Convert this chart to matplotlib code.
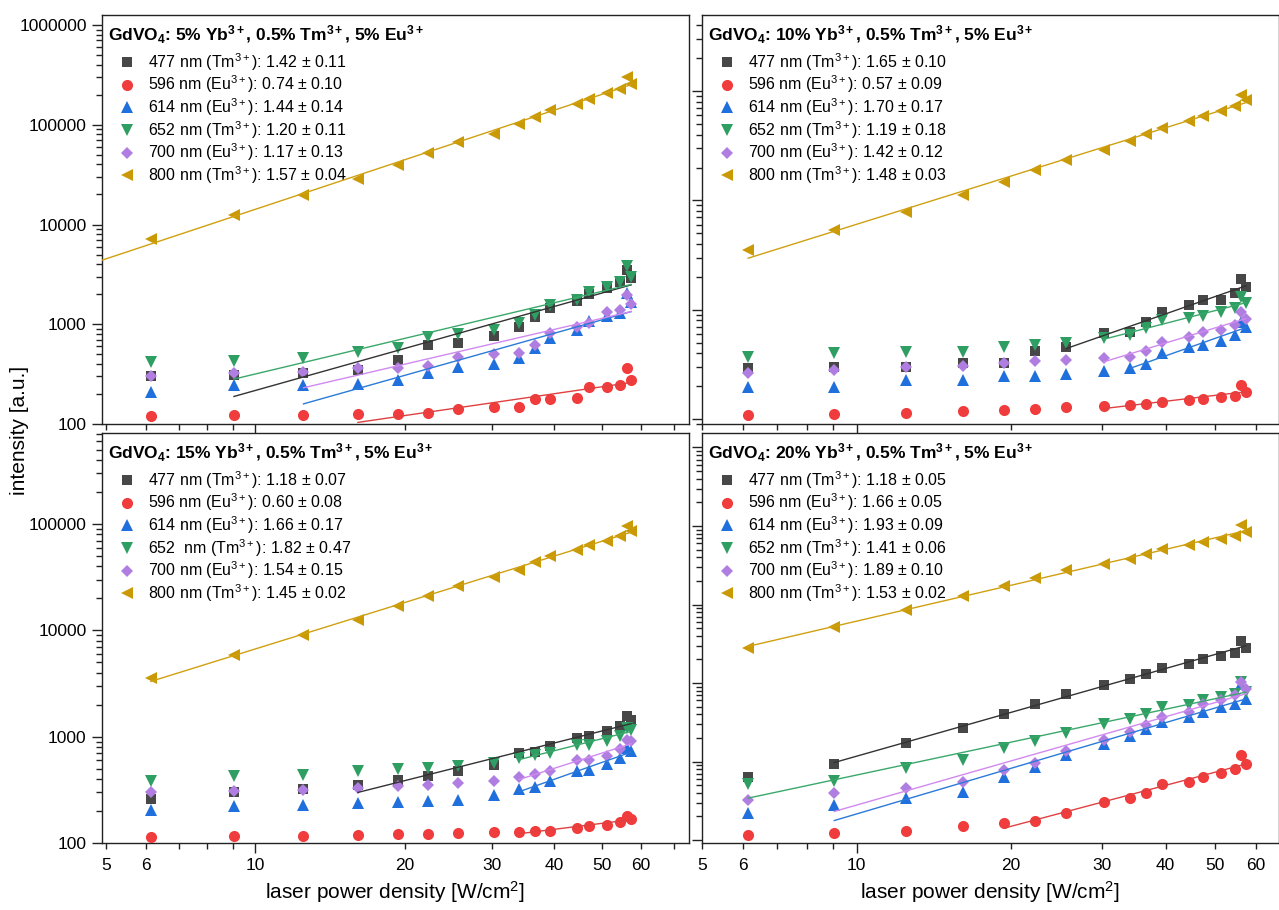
import numpy as np
import matplotlib
matplotlib.use("Agg")
import matplotlib.pyplot as plt
from matplotlib.ticker import FixedLocator, FuncFormatter, LogLocator, NullFormatter

plt.rcParams['font.family'] = ['Liberation Sans', 'DejaVu Sans']
plt.rcParams['mathtext.fontset'] = 'custom'
plt.rcParams['mathtext.rm'] = 'Liberation Sans'
plt.rcParams['mathtext.it'] = 'Liberation Sans:italic'
plt.rcParams['mathtext.bf'] = 'Liberation Sans:bold'

# ---------------- data ----------------
power = [6.15, 9.05, 12.5, 16.1, 19.4, 22.3, 25.6, 30.3, 34.1, 36.6, 39.4,
         44.5, 47.2, 51.3, 54.5, 56.2, 57.3]

lines_nm = ['477', '596', '614', '652', '700', '800']
ions = ['Tm', 'Eu', 'Eu', 'Tm', 'Eu', 'Tm']

# 5% Yb
yb5_477 = [303, 310, 323, 350, 440, 621, 656, 765, 949, 1178, 1452, 1692, 2000, 2300, 2630, 3500, 2900]
yb5_596 = [121, 123, 124, 125, 125, 130, 140, 147, 149, 180, 180, 184, 237, 237, 246, 362, 277]
yb5_614 = [211, 246, 246, 250, 277, 323, 377, 397, 456, 575, 725, 878, 1066, 1215, 1290, 2050, 1690]
yb5_652 = [423, 429, 456, 524, 584, 742, 795, 878, 1026, 1240, 1567, 1760, 2083, 2390, 2630, 3800, 2970]
yb5_700 = [303, 328, 335, 362, 368, 382, 467, 505, 520, 621, 813, 949, 1041, 1312, 1395, 1973, 1604]
yb5_800 = [7210, 12360, 19900, 28840, 39900, 52300, 66800, 81600, 100600, 119000, 139000,
           162000, 183000, 206000, 229000, 303000, 259000]
yb5_exp = [1.42, 0.74, 1.44, 1.20, 1.17, 1.57]
yb5_err = [0.11, 0.10, 0.14, 0.11, 0.13, 0.04]
yb5_fit_from = [1, 3, 2, 1, 2, 0]

# 10% Yb
yb10_477 = [290, 301, 301, 323, 327, 418, 458, 606, 628, 775, 943, 1100, 1223, 1223, 1425, 1928, 1618]
yb10_596 = [109, 111, 113, 119, 121, 123, 130, 131, 134, 136, 142, 149, 152, 160, 163, 205, 178]
yb10_614 = [195, 195, 227, 227, 247, 247, 258, 275, 290, 318, 404, 452, 475, 520, 586, 775, 688]
yb10_652 = [366, 398, 406, 406, 458, 475, 491, 553, 585, 674, 803, 832, 873, 957, 1026, 1294, 1156]
yb10_700 = [265, 280, 301, 307, 327, 341, 346, 358, 371, 421, 509, 565, 628, 650, 722, 957, 814]
yb10_800 = [3500, 5330, 7850, 11150, 14750, 18860, 23600, 29100, 34700, 40200, 45900,
            53200, 59100, 65200, 72500, 92600, 82200]
yb10_exp = [1.65, 0.57, 1.70, 1.19, 1.42, 1.48]
yb10_err = [0.10, 0.09, 0.17, 0.18, 0.12, 0.03]
yb10_fit_from = [6, 7, 8, 7, 7, 0]

# 15% Yb
yb15_477 = [260, 300, 322, 354, 395, 424, 473, 546, 703, 713, 812, 973, 1009, 1125, 1272, 1580, 1449]
yb15_596 = [114, 116, 117, 120, 122, 122, 124, 126, 127, 129, 131, 138, 144, 149, 156, 178, 169]
yb15_614 = [206, 221, 230, 238, 243, 250, 256, 285, 325, 334, 381, 473, 490, 558, 631, 784, 729]
yb15_652 = [381, 424, 440, 473, 497, 508, 527, 567, 631, 678, 703, 843, 843, 906, 1024, 1209, 1166]
yb15_700 = [300, 311, 318, 330, 342, 349, 367, 386, 415, 446, 480, 600, 600, 654, 767, 925, 906]
yb15_800 = [3570, 5930, 9140, 12650, 16900, 21000, 26100, 31700, 37400, 43900, 49900,
            56900, 63400, 69100, 77100, 95800, 85900]
yb15_exp = [1.18, 0.60, 1.66, 1.82, 1.54, 1.45]
yb15_err = [0.07, 0.08, 0.17, 0.47, 0.15, 0.02]
yb15_fit_from = [3, 8, 8, 8, 8, 0]

# 20% Yb
yb20_477 = [626, 927, 1731, 2711, 4088, 5480, 7350, 9380, 11400, 13200, 15700, 17700, 20500, 22100, 24200, 34400, 28000]
yb20_596 = [116, 124, 131, 151, 163, 175, 223, 302, 346, 400, 511, 552, 639, 705, 800, 1206, 927]
yb20_614 = [223, 279, 339, 412, 639, 857, 1206, 1664, 2103, 2583, 3202, 3706, 4293, 4876, 5480, 9840, 6340]
yb20_652 = [511, 563, 817, 1042, 1467, 1836, 2321, 2990, 3430, 4010, 4876, 5220, 6040, 6660, 7350, 10340, 7710]
yb20_700 = [323, 393, 454, 552, 777, 945, 1369, 1870, 2390, 2904, 3706, 4293, 5370, 6160, 7000, 10340, 8500]
yb20_800 = [28300, 51800, 86000, 128500, 172300, 217800, 272600, 331000, 383000, 443700, 503700,
            566400, 624500, 688700, 737800, 1018000, 837000]
yb20_exp = [1.18, 1.66, 1.93, 1.41, 1.89, 1.53]
yb20_err = [0.05, 0.05, 0.09, 0.06, 0.10, 0.02]
yb20_fit_from = [1, 4, 1, 0, 1, 0]

titles = [r"GdVO$_\mathbf{4}$: 5% Yb$^\mathbf{3+}$, 0.5% Tm$^\mathbf{3+}$, 5% Eu$^\mathbf{3+}$",
          r"GdVO$_\mathbf{4}$: 10% Yb$^\mathbf{3+}$, 0.5% Tm$^\mathbf{3+}$, 5% Eu$^\mathbf{3+}$",
          r"GdVO$_\mathbf{4}$: 15% Yb$^\mathbf{3+}$, 0.5% Tm$^\mathbf{3+}$, 5% Eu$^\mathbf{3+}$",
          r"GdVO$_\mathbf{4}$: 20% Yb$^\mathbf{3+}$, 0.5% Tm$^\mathbf{3+}$, 5% Eu$^\mathbf{3+}$"]

# ---------------- style ----------------
colors = ['#474747', '#f03c3c', '#1f6fdc', '#2e9e62', '#b07ee0', '#c99a06']
fit_colors = ['#333333', '#e04040', '#2a7ad8', '#3aa86a', '#d08af0', '#d0a010']
markers = ['s', 'o', '^', 'v', 'D', '<']
msizes = [7.0, 8.0, 8.0, 8.0, 6.5, 8.0]

W, H = 1279, 910
fig = plt.figure(figsize=(W / 100, H / 100), dpi=100)

def ax_at(x0, x1, ytop, ybot):
    return fig.add_axes([x0 / W, 1 - ybot / H, (x1 - x0) / W, (ybot - ytop) / H])

panels = [
    dict(ax=ax_at(102, 689, 15, 424), data=[yb5_477, yb5_596, yb5_614, yb5_652, yb5_700, yb5_800],
         exp=yb5_exp, err=yb5_err, ff=yb5_fit_from, xlim=(4.9, 75), ylim=(100, 1.26e6),
         ylab=True, xlab=False, extend=[False] * 5 + [True], title=titles[0]),
    dict(ax=ax_at(702, 1279, 15, 424), data=[yb10_477, yb10_596, yb10_614, yb10_652, yb10_700, yb10_800],
         exp=yb10_exp, err=yb10_err, ff=yb10_fit_from, xlim=(5.0, 66.5), ylim=(90, 4.97e5),
         ylab=False, xlab=False, extend=[False] * 6, title=titles[1]),
    dict(ax=ax_at(102, 689, 433, 843), data=[yb15_477, yb15_596, yb15_614, yb15_652, yb15_700, yb15_800],
         exp=yb15_exp, err=yb15_err, ff=yb15_fit_from, xlim=(4.9, 75), ylim=(100, 7.2e5),
         ylab=True, xlab=True, extend=[False] * 6, title=titles[2]),
    dict(ax=ax_at(702, 1279, 433, 843), data=[yb20_477, yb20_596, yb20_614, yb20_652, yb20_700, yb20_800],
         exp=yb20_exp, err=yb20_err, ff=yb20_fit_from, xlim=(5.0, 66.5), ylim=(91.6, 1.53e7),
         ylab=False, xlab=True, extend=[False] * 6, title=titles[3]),
]

x = np.array(power)
lab_minor = {5, 6, 20, 30, 40, 50, 60}

for pi, p in enumerate(panels):
    ax = p['ax']
    ax.set_xscale('log')
    ax.set_yscale('log')
    ax.set_xlim(*p['xlim'])
    ax.set_ylim(*p['ylim'])
    handles = []
    labels = []
    for i in range(6):
        y = np.array(p['data'][i], dtype=float)
        h, = ax.plot(x, y, linestyle='none', marker=markers[i], ms=msizes[i],
                     color=colors[i], mew=0, zorder=3 + i)
        handles.append(h)
        sp = '  ' if (pi == 2 and i == 3) else ' '
        labels.append(f"{lines_nm[i]}{sp}nm ({ions[i]}$^{{3+}}$): {p['exp'][i]:.2f} $\\pm$ {p['err'][i]:.2f}")
    for i in range(6):
        y = np.array(p['data'][i], dtype=float)
        s = p['ff'][i]
        k, b = np.polyfit(np.log10(x[s:]), np.log10(y[s:]), 1)
        xs = p['xlim'][0] if p['extend'][i] else x[s]
        xx = np.array([xs, x[-1]])
        ax.plot(xx, 10 ** (b + k * np.log10(xx)), color=fit_colors[i], lw=1.0, zorder=10)

    # ticks
    ax.xaxis.set_major_locator(FixedLocator([10]))
    ax.xaxis.set_minor_locator(FixedLocator([5, 6, 7, 8, 9, 20, 30, 40, 50, 60, 70]))
    ax.xaxis.set_major_formatter(FuncFormatter(lambda v, q: f"{int(round(v))}"))
    ax.xaxis.set_minor_formatter(FuncFormatter(
        lambda v, q: f"{int(round(v))}" if int(round(v)) in lab_minor else ""))
    ax.yaxis.set_major_locator(LogLocator(base=10, numticks=20))
    ax.yaxis.set_minor_locator(LogLocator(base=10, subs=np.arange(2, 10), numticks=20))
    ax.yaxis.set_major_formatter(FuncFormatter(lambda v, q: f"{int(round(v))}"))
    ax.yaxis.set_minor_formatter(NullFormatter())
    ax.tick_params(axis='both', which='major', direction='out', length=7, width=1.0,
                   labelsize=12.5, top=False, right=False, color='#222222')
    ax.tick_params(axis='both', which='minor', direction='out', length=4, width=1.0,
                   labelsize=12.5, top=False, right=False, color='#222222')
    ax.tick_params(axis='x', which='major', pad=4)
    ax.tick_params(axis='x', which='minor', pad=7)
    ax.tick_params(axis='y', which='major', pad=4)
    if not p['xlab']:
        ax.tick_params(axis='x', which='both', labelbottom=False)
    if not p['ylab']:
        ax.tick_params(axis='y', which='both', labelleft=False)
    for sp_ in ax.spines.values():
        sp_.set_linewidth(1.0)
        sp_.set_color('#222222')

    # title and legend
    axw = (p['ax'].get_position().width * W)
    axh = (p['ax'].get_position().height * H)
    ax.text(6 / axw, 1 - 20 / axh, p['title'], transform=ax.transAxes, fontsize=12.5,
            fontweight='bold', ha='left', va='center', zorder=20)
    ax.legend(handles, labels, loc='upper left', bbox_to_anchor=(17 / axw, 1 - 36 / axh),
              frameon=False, borderpad=0, borderaxespad=0, handlelength=1.0,
              handletextpad=0.8, labelspacing=0.06, fontsize=11.5, numpoints=1)

fig.text(20 / W, 1 - 430 / H, 'intensity [a.u.]', rotation=90, ha='center', va='center', fontsize=15)
fig.text(395 / W, 1 - 892 / H, 'laser power density [W/cm$^2$]', ha='center', va='center', fontsize=15)
fig.text(990 / W, 1 - 892 / H, 'laser power density [W/cm$^2$]', ha='center', va='center', fontsize=15)

fig.savefig('out.png', dpi=100)
